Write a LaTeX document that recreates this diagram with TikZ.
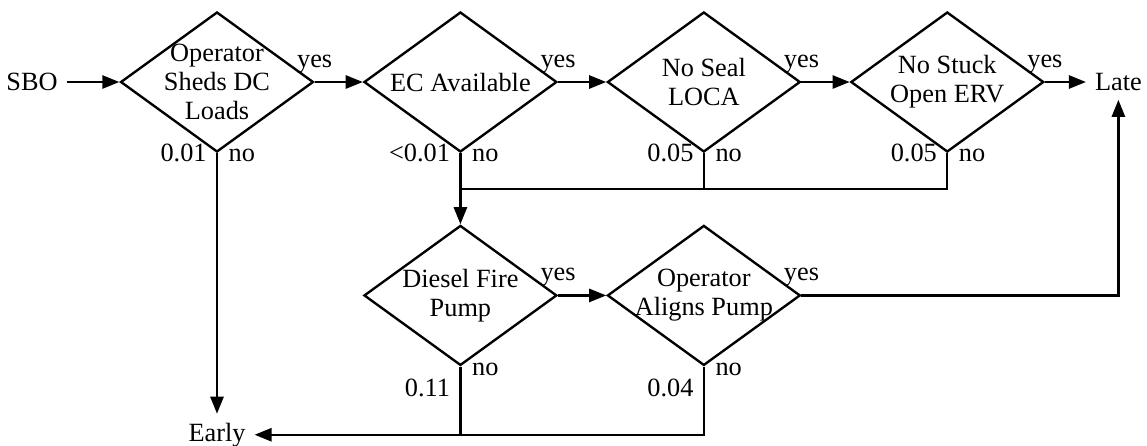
\documentclass[tikz,border=0pt]{standalone}
\usepackage{fontspec}
\setmainfont{Liberation Serif}
\usetikzlibrary{arrows.meta,positioning,shapes.geometric,calc}

\begin{document}
\begin{tikzpicture}[
font=\fontsize{10}{11}\selectfont,
node distance=18.3pt,
line width=0.9pt,
dec/.style={diamond,draw,minimum width=73.3pt,minimum height=53.2pt,inner sep=0pt},
every label/.style={align=center,inner sep=0pt},
term/.style={inner sep=3pt},
arr/.style={-{Triangle[length=6.5pt,width=5pt]}},
yeslbl/.style={anchor=base,inner sep=0pt,yshift=5.7pt},
nolbl/.style={anchor=base west,inner sep=0pt,xshift=4pt,yshift=-3.2pt},
plbl/.style={anchor=base east,inner sep=0pt,xshift=-3.5pt,yshift=-3.2pt}
]
\useasboundingbox (-82.46pt,-137.94pt) rectangle (353.4pt,31.16pt);

% upper row
\node[dec,label={center:Operator\\Sheds DC\\Loads}] (shed) {};
\node[dec,right=of shed,label={center:EC Available}] (ec) {};
\node[dec,right=of ec,label={center:No Seal\\LOCA}] (seal) {};
\node[dec,right=of seal,label={center:No Stuck\\Open ERV}] (erv) {};
% lower row
\node[dec,below=27pt of ec,label={center:Diesel Fire\\Pump}] (fire) {};
\node[dec,right=of fire,label={center:Operator\\Aligns Pump}] (align) {};
% end states
\node[term,left=20pt of shed] (sbo) {SBO};
\node[term,right=15.6pt of erv] (late) {Late};
\node[term,below=99pt of shed] (early) {Early};

\foreach \d in {shed,ec,seal,erv,fire,align}{
  \node[yeslbl] at (\d.east) {yes};
  \node[nolbl] at (\d.south) {no};
}
\node[plbl] at (shed.south) {0.01};
\node[plbl] at (ec.south) {<0.01};
\node[plbl] at (seal.south) {0.05};
\node[plbl] at (erv.south) {0.05};
\node[plbl,yshift=-8.3pt] at (fire.south) {0.11};
\node[plbl,yshift=-8.3pt] at (align.south) {0.04};

\draw[arr] (sbo) -- (shed);
\draw[arr] (shed) -- (ec);
\draw[arr] (ec) -- (seal);
\draw[arr] (seal) -- (erv);
\draw[arr] (erv) -- (late);
\coordinate (join) at ($(ec.south)!0.5!(fire.north)$);
\draw (erv.south) |- (join);
\draw (seal.south) -- (seal.south |- join);
\draw[arr] (ec.south) -- (fire.north);
\draw[arr] (fire) -- (align);
\draw[arr] (align.east) -| (late.south);
\draw[arr] (shed.south) -- (early);
\draw[arr] (align.south) |- (early);
\draw (fire.south) -- (fire.south |- early);
\end{tikzpicture}
\end{document}
